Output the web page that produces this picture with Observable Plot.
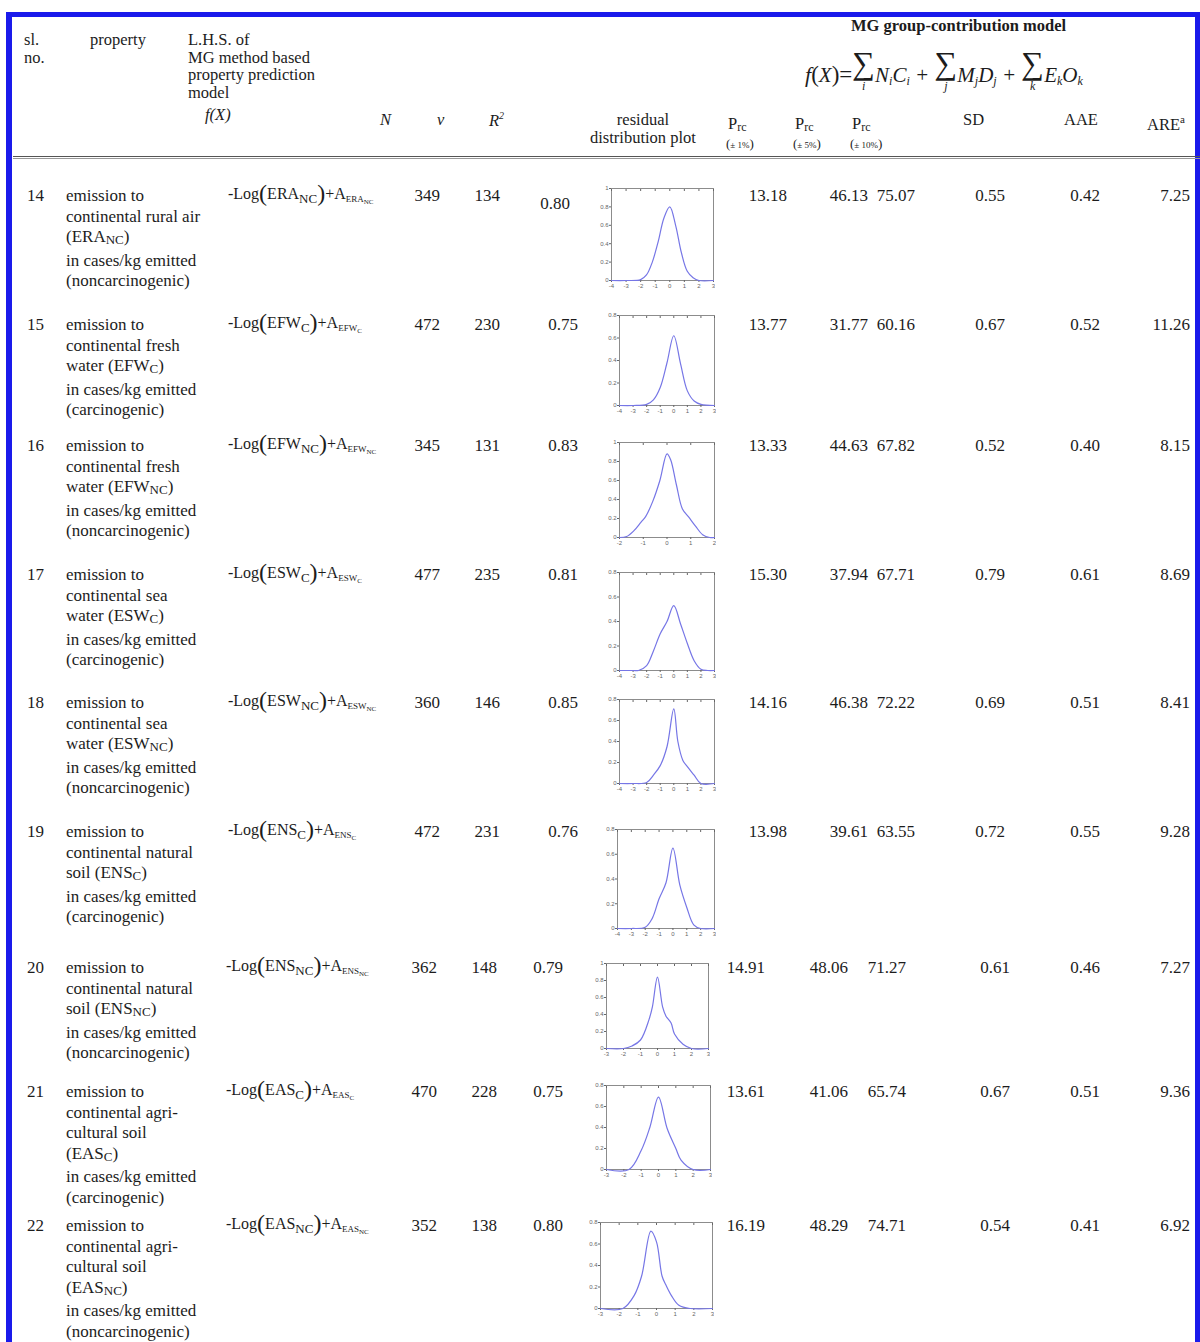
<!DOCTYPE html>
<html><head><meta charset="utf-8">
<script src="https://cdn.jsdelivr.net/npm/d3@7"></script>
<script src="https://cdn.jsdelivr.net/npm/@observablehq/plot@0.6"></script>
<style>
html,body{margin:0;padding:0;background:#fff;}
#page{position:relative;width:1200px;height:1342px;overflow:hidden;font-family:"Liberation Serif","Times New Roman",serif;color:#1c1c1c;font-size:17px;}
.t{position:absolute;white-space:nowrap;line-height:20.5px;}
.h{position:absolute;white-space:nowrap;line-height:17.5px;font-size:16.5px;}
sub{font-size:11px;vertical-align:-3px;line-height:0;}
.sc{font-size:13px;vertical-align:-2px;}
.big{font-size:24px;vertical-align:-2px;line-height:0;}
.it{font-style:italic;}
.plot{position:absolute;}
</style></head>
<body><div id="page"></div>
<script>
// ---------- data ----------
const slNo = [14,15,16,17,18,19,20,21,22];
const propLines = [
 ["emission to","continental rural air","(ERA<span class=sc>NC</span>)","in cases/kg emitted","(noncarcinogenic)"],
 ["emission to","continental fresh","water (EFW<span class=sc>C</span>)","in cases/kg emitted","(carcinogenic)"],
 ["emission to","continental fresh","water (EFW<span class=sc>NC</span>)","in cases/kg emitted","(noncarcinogenic)"],
 ["emission to","continental sea","water (ESW<span class=sc>C</span>)","in cases/kg emitted","(carcinogenic)"],
 ["emission to","continental sea","water (ESW<span class=sc>NC</span>)","in cases/kg emitted","(noncarcinogenic)"],
 ["emission to","continental natural","soil (ENS<span class=sc>C</span>)","in cases/kg emitted","(carcinogenic)"],
 ["emission to","continental natural","soil (ENS<span class=sc>NC</span>)","in cases/kg emitted","(noncarcinogenic)"],
 ["emission to","continental agri-","cultural soil","(EAS<span class=sc>C</span>)","in cases/kg emitted","(carcinogenic)"],
 ["emission to","continental agri-","cultural soil","(EAS<span class=sc>NC</span>)","in cases/kg emitted","(noncarcinogenic)"]
];
const lhsCode = ["ERA","EFW","EFW","ESW","ESW","ENS","ENS","EAS","EAS"];
const lhsSub  = ["NC","C","NC","C","NC","C","NC","C","NC"];
const nVals   = [349,472,345,477,360,472,362,470,352];
const nuVals  = [134,230,131,235,146,231,148,228,138];
const r2Vals  = ["0.80","0.75","0.83","0.81","0.85","0.76","0.79","0.75","0.80"];
const p1Vals  = ["13.18","13.77","13.33","15.30","14.16","13.98","14.91","13.61","16.19"];
const p5Vals  = ["46.13","31.77","44.63","37.94","46.38","39.61","48.06","41.06","48.29"];
const p10Vals = ["75.07","60.16","67.82","67.71","72.22","63.55","71.27","65.74","74.71"];
const sdVals  = ["0.55","0.67","0.52","0.79","0.69","0.72","0.61","0.67","0.54"];
const aaeVals = ["0.42","0.52","0.40","0.61","0.51","0.55","0.46","0.51","0.41"];
const areVals = ["7.25","11.26","8.15","8.69","8.41","9.28","7.27","9.36","6.92"];

// residual distribution curves (residual, density)
const resX = [
 [-4,-3,-2,-1.6,-1.2,-0.8,-0.4,0,0.4,0.8,1.2,1.6,2,3],
 [-4,-3,-2,-1.5,-1,-0.5,0,0.5,1,1.5,2,3],
 [-2,-1.7,-1.4,-1.1,-0.9,-0.6,-0.3,0,0.15,0.4,0.65,0.9,1.2,1.5,1.8,2],
 [-4,-3,-2.6,-2,-1.5,-1,-0.5,0,0.5,1,1.5,2,2.5,3],
 [-4,-3,-2,-1.5,-1,-0.5,0,0.3,0.67,1,1.5,2,3],
 [-4,-3,-2,-1.5,-1,-0.5,0,0.5,1,1.5,2,3],
 [-3,-2,-1.5,-1,-0.5,-0.3,0,0.3,0.5,0.8,1,1.5,2,3],
 [-3,-1.7,-1,-0.5,0,0.5,1,1.3,2,3],
 [-3,-1.8,-1.2,-0.8,-0.3,0,0.3,0.5,0.8,1.2,1.8,3]
];
const resY = [
 [0,0,0.01,0.06,0.2,0.42,0.68,0.8,0.6,0.3,0.1,0.03,0,0],
 [0,0,0.01,0.05,0.16,0.38,0.62,0.37,0.13,0.04,0.01,0],
 [0,0.01,0.07,0.16,0.22,0.38,0.6,0.88,0.82,0.55,0.3,0.22,0.12,0.03,0,0],
 [0,0,0,0.04,0.16,0.3,0.4,0.53,0.38,0.22,0.08,0.01,0,0],
 [0,0,0.01,0.08,0.17,0.35,0.71,0.4,0.22,0.16,0.08,0,0],
 [0,0,0.01,0.08,0.24,0.37,0.65,0.35,0.17,0.03,0,0],
 [0,0,0.03,0.1,0.34,0.49,0.84,0.49,0.38,0.3,0.17,0.05,0,0],
 [0,0,0.18,0.4,0.69,0.39,0.2,0.09,0,0],
 [0,0,0.12,0.3,0.72,0.62,0.3,0.22,0.12,0.03,0,0]
];
const resXDomain = [[-4,3],[-4,3],[-2,2],[-4,3],[-4,3],[-4,3],[-3,3],[-3,3],[-3,3]];
const resYMax = [1,0.8,1,0.8,0.8,0.8,1,0.8,0.8];

// ---------- layout ----------
const rowY = [186,315,436,565,693,822,958,1082,1216];           // top of first text line
const grpA = {n:440,v:500,r2:578,p1:787,p5:868,p10:915,sd:1005,aae:1100,are:1190,lhs:228};
const grpB = {n:437,v:497,r2:563,p1:765,p5:848,p10:906,sd:1010,aae:1100,are:1190,lhs:226};
const boxes = [ // frame box of each residual plot: left, top, right, bottom
 [611,188,713,280],[619,315,714,405],[619,442,714,537],[619,572,714,670],[619,699,714,783],
 [617,829,714,928],[606,963,708,1048],[606,1085,710,1169],[600,1222,712,1308]
];

const page = document.getElementById("page");
function add(cls, html, x, y, right){
  const d = document.createElement("div");
  d.className = cls; d.innerHTML = html;
  d.style.top = y + "px";
  if (right) { d.style.right = (1200 - x) + "px"; d.style.textAlign = "right"; }
  else d.style.left = x + "px";
  page.appendChild(d); return d;
}

// frame
const frame = document.createElement("div");
Object.assign(frame.style,{position:"absolute",left:"6px",top:"12px",width:"1200px",height:"1400px",borderLeft:"6px solid #1a1aeb",borderTop:"5px solid #1a1aeb",boxSizing:"border-box"});
page.appendChild(frame);
const rframe = document.createElement("div");
Object.assign(rframe.style,{position:"absolute",left:"1195px",top:"12px",width:"5px",height:"1400px",background:"#1a1aeb"});
page.appendChild(rframe);
// header rule
const rule = document.createElement("div");
Object.assign(rule.style,{position:"absolute",left:"13px",top:"156px",width:"1190px",height:"1px",borderTop:"1px solid #555",borderBottom:"1px solid #999"});
page.appendChild(rule);

// header texts
add("h","sl.<br>no.",24,31);
add("h","property",90,31);
add("h","L.H.S. of<br>MG method based<br>property prediction<br>model",188,31);
add("h it","f(X)",205,106);
add("h it","N",380,111);
add("h it","v",437,111);
add("h it","R<sup style='font-size:10px'>2</sup>",489,107);
add("h","residual<br>distribution plot",590,111).style.textAlign="center";
["± 1%","± 5%","± 10%"].forEach((s,i)=>{
  const x=[728,795,852][i];
  add("h","P<span style='font-size:12px;vertical-align:-2px'>rc</span>",x,115);
  add("h","<span style='font-size:13px'>(</span><span style='font-size:9px'>" + s + "</span><span style='font-size:13px'>)</span>",x-2,134);
});
add("h","SD",963,111);
add("h","AAE",1064,111);
add("h","ARE<sup style='font-size:11px'>a</sup>",1147,111);
add("h","<b>MG group-contribution model</b>",851,17);
const sig = (i)=>`<span style="display:inline-block;text-align:center;vertical-align:-8px;line-height:16px"><span style="font-size:32px;font-style:normal">∑</span><br><span style="font-size:12px">${i}</span></span>`;
add("h it",`<span style="font-size:22px">f</span><span style="font-size:23px;font-style:normal">(</span><span style="font-size:21px">X</span><span style="font-size:23px;font-style:normal">)=</span>${sig("i")}<span style="font-size:21px">N<sub style="font-size:12px">i</sub>C<sub style="font-size:12px">i</sub> + </span>${sig("j")}<span style="font-size:21px">M<sub style="font-size:12px">j</sub>D<sub style="font-size:12px">j</sub> + </span>${sig("k")}<span style="font-size:21px">E<sub style="font-size:12px">k</sub>O<sub style="font-size:12px">k</sub></span>`,805,55);

// rows
slNo.forEach((s,i)=>{
  const y = rowY[i], g = i<6 ? grpA : grpB;
  add("t", String(s), 27, y);
  add("t", propLines[i].join("<br>"), 66, y);
  add("t", `-Log<span class=big>(</span>${lhsCode[i]}<sub style="font-size:13px;vertical-align:-4px">${lhsSub[i]}</sub><span class=big>)</span>+A<sub style="font-size:9px">${lhsCode[i]}<sub style="font-size:7px;vertical-align:-2px">${lhsSub[i]}</sub></sub>`, g.lhs, y-2).style.fontSize="16px";
  add("t", String(nVals[i]), g.n, y, true);
  add("t", String(nuVals[i]), g.v, y, true);
  add("t", r2Vals[i], i===0?570:g.r2, i===0?y+8:y, true);
  add("t", p1Vals[i], g.p1, y, true);
  add("t", p5Vals[i], g.p5, y, true);
  add("t", p10Vals[i], g.p10, y, true);
  add("t", sdVals[i], g.sd, y, true);
  add("t", aaeVals[i], g.aae, y, true);
  add("t", areVals[i], g.are, y, true);

  // residual plot
  const [l,t,r,b] = boxes[i];
  const mL=14, mT=2, mR=2, mB=11;
  const data = resX[i].map((x,j)=>({x, y:resY[i][j]}));
  const [x0,x1] = resXDomain[i];
  const xt = d3.range(x0, x1+0.5, 1);
  const yt = d3.range(0, resYMax[i]+0.01, 0.2).map(v=>+v.toFixed(1));
  const svg = Plot.plot({
    width: (r-l)+mL+mR, height: (b-t)+mT+mB,
    marginLeft:mL, marginTop:mT, marginRight:mR, marginBottom:mB,
    x:{domain:[x0,x1]}, y:{domain:[0,resYMax[i]]},
    style:{fontSize:"6px", color:"#666", background:"transparent", fontFamily:"Liberation Sans"},
    marks:[
      Plot.frame({stroke:"#8c8c8c", strokeWidth:1}),
      Plot.axisX({ticks:xt, tickSize:2, tickPadding:1, tickFormat:d=>String(d), label:null}),
      Plot.axisX({ticks:xt, anchor:"top", tickSize:-2, tickFormat:()=> "", label:null}),
      Plot.axisY({ticks:yt, tickSize:2, tickPadding:1, tickFormat:d=>String(d), label:null}),
      Plot.line(data,{x:"x", y:"y", stroke:"#7676e6", strokeWidth:1.2, curve:"catmull-rom"})
    ]
  });
  svg.classList.add("plot");
  svg.style.left = (l-mL)+"px"; svg.style.top = (t-mT)+"px";
  page.appendChild(svg);
});
</script></body></html>
